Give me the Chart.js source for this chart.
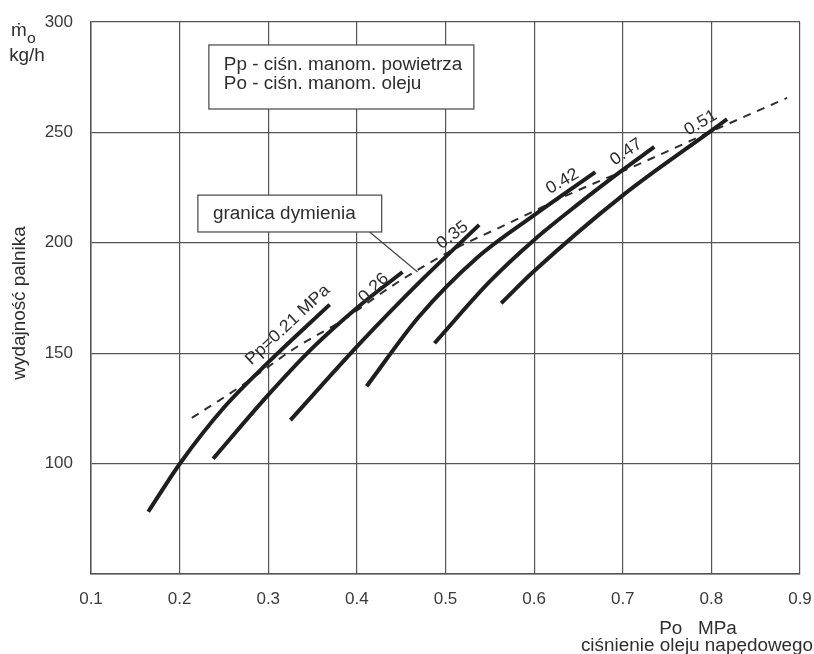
<!DOCTYPE html>
<html>
<head>
<meta charset="utf-8">
<script src="https://cdn.jsdelivr.net/npm/chart.js@4.4.1/dist/chart.umd.min.js"></script>
<style>
  html, body { margin: 0; padding: 0; background: #fff; }
  #wrap { width: 814px; height: 654px; }
</style>
</head>
<body>
<div id="wrap"><canvas id="chart" width="814" height="654"></canvas></div>
<script>
// Po [MPa] -> wydajnosc palnika [kg/h], one curve per Pp
const po021 = [0.1646, 0.2014, 0.25, 0.3017, 0.3693];
const mo021 = [78.2, 100.6, 125.4, 146.5, 172];
const po026 = [0.2378, 0.30, 0.35, 0.40, 0.4515];
const mo026 = [102.2, 131.1, 152.4, 170.5, 186.8];
const po035 = [0.325, 0.4042, 0.4707, 0.538];
const mo035 = [119.7, 154.8, 182.2, 208.1];
const po042 = [0.411, 0.47, 0.535, 0.60, 0.669];
const mo042 = [135, 166.5, 193, 212.5, 232];
const po047 = [0.4876, 0.55, 0.60, 0.65, 0.70, 0.7355];
const mo047 = [154.5, 182.5, 201.3, 217.6, 233, 243.4];
const po051 = [0.5628, 0.60, 0.70, 0.80, 0.8177];
const mo051 = [172.6, 187.2, 221.5, 250.8, 256];

// granica dymienia (dashed)
const poSmoke = [0.2138, 0.2679, 0.3321, 0.3806, 0.4448, 0.5079, 0.5721, 0.6431, 0.7107, 0.8108, 0.8854];
const moSmoke = [120.7, 134.7, 152.8, 164.1, 181.8, 196.7, 209.0, 222.6, 234.3, 252.4, 265.6];

const xTicks = [0.1, 0.2, 0.3, 0.4, 0.5, 0.6, 0.7, 0.8, 0.9];
const yTicks = [50, 100, 150, 200, 250, 300];
const yTickLabels = ['', '100', '150', '200', '250', '300'];

// curve labels, anchored in data units
const curveLabels = ['Pp=0.21 MPa', '0.26', '0.35', '0.42', '0.47', '0.51'];
const labelPo = [0.322, 0.419, 0.508, 0.632, 0.704, 0.788];
const labelMo = [162.8, 179.5, 203.4, 227.8, 241.1, 254.3];
const labelAngle = [-43, -44, -37, -30, -34, -30];

const legendLines = ['Pp - ciśn. manom. powietrza', 'Po - ciśn. manom. oleju'];
const smokeText = 'granica dymienia';

const pts = (xs, ys) => xs.map((x, i) => ({ x: x, y: ys[i] }));

const curve = (xs, ys) => ({
  data: pts(xs, ys),
  borderColor: '#1e1e1e',
  borderWidth: 4,
  pointRadius: 0,
  showLine: true,
  fill: false,
  cubicInterpolationMode: 'monotone',
  borderCapStyle: 'butt'
});

const FONT = '"Liberation Sans", Arial, sans-serif';
const TXT = '#2e2e2e';
const STRETCH = 1.05;

// scanned lettering is a bit wider than Liberation Sans
function txt(ctx, s, x, y, size, align, angle) {
  ctx.save();
  ctx.font = size + 'px ' + FONT;
  ctx.translate(x, y);
  if (angle) ctx.rotate(angle * Math.PI / 180);
  ctx.scale(STRETCH, 1);
  ctx.textAlign = align;
  ctx.fillText(s, 0, 0);
  ctx.restore();
}

const extras = {
  id: 'extras',
  afterDraw(chart) {
    const ctx = chart.ctx;
    const sx = chart.scales.x, sy = chart.scales.y;
    const px = v => sx.getPixelForValue(v);
    const py = v => sy.getPixelForValue(v);
    ctx.save();
    ctx.fillStyle = TXT;
    ctx.textBaseline = 'middle';

    curveLabels.forEach((t, i) => {
      txt(ctx, t, px(labelPo[i]), py(labelMo[i]), 17, 'center', labelAngle[i]);
    });

    // box with legend text
    ctx.strokeStyle = '#444';
    ctx.lineWidth = 1.2;
    let l = px(0.233), r = px(0.532), t = py(289.6), b = py(260.6);
    ctx.fillStyle = '#fff';
    ctx.fillRect(l, t, r - l, b - t);
    ctx.strokeRect(l, t, r - l, b - t);
    ctx.fillStyle = TXT;
    ctx.textBaseline = 'alphabetic';
    txt(ctx, legendLines[0], l + 15, t + 25, 18, 'left');
    txt(ctx, legendLines[1], l + 15, t + 44, 18, 'left');

    // granica dymienia box + leader line
    l = px(0.2206); r = px(0.428); t = py(221.6); b = py(204.9);
    ctx.beginPath();
    ctx.moveTo(px(0.4144), b);
    ctx.lineTo(px(0.4685), py(186.8));
    ctx.stroke();
    ctx.fillStyle = '#fff';
    ctx.fillRect(l, t, r - l, b - t);
    ctx.strokeRect(l, t, r - l, b - t);
    ctx.fillStyle = TXT;
    ctx.textBaseline = 'middle';
    txt(ctx, smokeText, l + 15, (t + b) / 2, 18, 'left');

    // axis titles
    ctx.textBaseline = 'alphabetic';
    txt(ctx, 'ṁ', 11, 36, 18, 'left');
    txt(ctx, 'o', 27, 43, 15, 'left');
    txt(ctx, 'kg/h', 27, 61, 18, 'center');
    txt(ctx, 'Po   MPa', 698, 634, 18, 'center');
    txt(ctx, 'ciśnienie oleju napędowego', 697, 651, 18, 'center');
    txt(ctx, 'wydajność palnika', 25, 303, 18, 'center', -90);

    ctx.restore();
  }
};

new Chart(document.getElementById('chart'), {
  type: 'scatter',
  plugins: [extras],
  data: {
    datasets: [
      curve(po021, mo021),
      curve(po026, mo026),
      curve(po035, mo035),
      curve(po042, mo042),
      curve(po047, mo047),
      curve(po051, mo051),
      {
        data: pts(poSmoke, moSmoke),
        borderColor: '#2e2e2e',
        borderWidth: 2,
        borderDash: [8, 7],
        pointRadius: 0,
        showLine: true,
        fill: false,
        cubicInterpolationMode: 'monotone'
      }
    ]
  },
  options: {
    responsive: false,
    animation: false,
    layout: { padding: { top: 22, right: 14, left: 0, bottom: 0 } },
    plugins: { legend: { display: false }, tooltip: { enabled: false } },
    scales: {
      x: {
        type: 'linear',
        min: 0.1,
        max: 0.9,
        afterBuildTicks: s => { s.ticks = xTicks.map(v => ({ value: v })); },
        afterFit: s => { s.height = 80; s.paddingLeft = 0; s.paddingRight = 0; },
        ticks: {
          color: '#3a3a3a',
          font: { size: 17, family: FONT },
          padding: 15,
          maxRotation: 0,
          callback: v => v.toFixed(1)
        },
        grid: { color: '#555', lineWidth: 1.2, drawTicks: false },
        border: { display: true, color: '#555', width: 1.5 }
      },
      y: {
        type: 'linear',
        min: 50,
        max: 300,
        afterBuildTicks: s => { s.ticks = yTicks.map(v => ({ value: v })); },
        afterFit: s => { s.width = 91; s.paddingTop = 0; s.paddingBottom = 0; },
        ticks: {
          color: '#3a3a3a',
          font: { size: 17, family: FONT },
          padding: 18,
          callback: v => yTickLabels[yTicks.indexOf(v)]
        },
        grid: { color: '#555', lineWidth: 1.2, drawTicks: false },
        border: { display: true, color: '#555', width: 1.5 }
      }
    }
  }
});
</script>
</body>
</html>
